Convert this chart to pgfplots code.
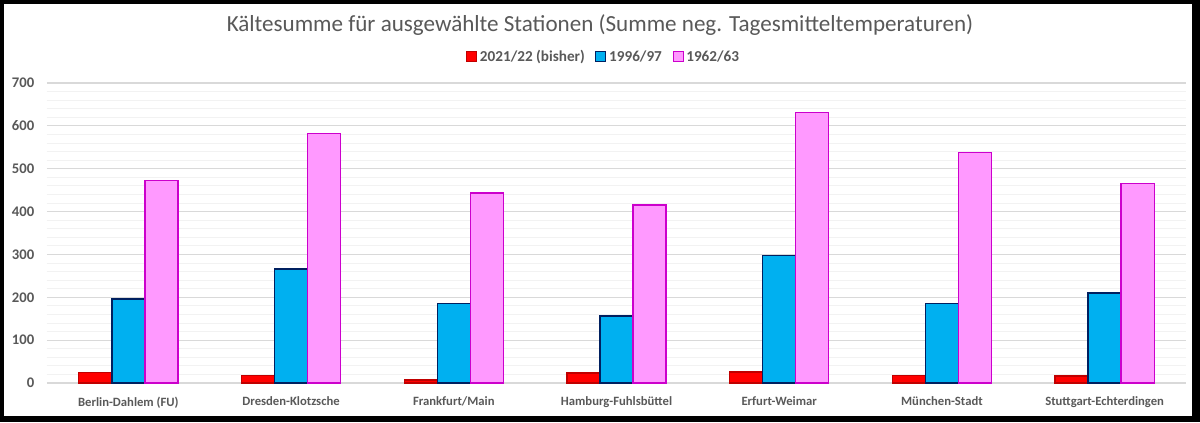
\documentclass[border=0pt]{standalone}
\usepackage{fontspec}
\setmainfont{Carlito}
\usepackage{pgfplots}
\pgfplotsset{compat=1.18}
\definecolor{txt}{HTML}{595959}
\definecolor{gmaj}{HTML}{D9D9D9}
\definecolor{gmin}{HTML}{F2F2F2}
\definecolor{redf}{HTML}{FF0000}
\definecolor{rede}{HTML}{C00000}
\definecolor{bluef}{HTML}{00B0F0}
\definecolor{bluee}{HTML}{002060}
\definecolor{pinkf}{HTML}{FF99FF}
\definecolor{pinke}{HTML}{CC00CC}
\begin{document}
\begin{tikzpicture}
\fill[black] (0pt,0pt) rectangle (900pt,316.5pt);
\fill[white] (3pt,4.5pt) rectangle (894pt,313.5pt);
\node[text=txt,font=\fontsize{17.3pt}{20pt}\selectfont] at (450pt,297.5pt) {Kältesumme für ausgewählte Stationen (Summe neg. Tagesmitteltemperaturen)};
\begin{axis}[
  at={(35.25pt,29.25pt)}, anchor=south west,
  scale only axis, width=854.25pt, height=225pt,
  ybar=0pt, bar width=0.203,
  xmin=-0.5, xmax=6.5, ymin=0, ymax=700,
  xtick={0,1,2,3,4,5,6},
  xticklabels={Berlin-Dahlem (FU),Dresden-Klotzsche,Frankfurt/Main,Hamburg-Fuhlsbüttel,Erfurt-Weimar,München-Stadt,Stuttgart-Echterdingen},
  ytick={0,100,...,700},
  minor y tick num=4,
  ymajorgrids, yminorgrids,
  major grid style={gmaj, line width=0.8pt},
  minor grid style={gmin, line width=0.7pt},
  axis line style={draw=none},
  major tick length=0pt, minor tick length=0pt,
  tick style={draw=none},
  /pgf/number format/assume math mode=true,
  yticklabel style={font=\fontsize{11pt}{13pt}\selectfont\bfseries, text=txt, xshift=-6pt},
  xticklabel style={font=\fontsize{9.5pt}{11pt}\selectfont\bfseries, text=txt, yshift=-7pt},
  legend style={at={(0.489,1.087)}, anchor=center, draw=none, legend columns=3,
    font=\fontsize{11.4pt}{13pt}\selectfont\bfseries, text=txt,
    /tikz/every even column/.append style={column sep=6pt}},
  legend image code/.code={\draw[#1, line width=0.8pt] (0pt,-3.75pt) rectangle (7.5pt,3.75pt);},
]
\addplot[fill=redf, draw=rede, line width=1pt] coordinates {(0,25) (1,18) (2,7) (3,23) (4,26) (5,17) (6,16)};
\addplot[fill=bluef, draw=bluee, line width=1pt] coordinates {(0,196) (1,266) (2,185) (3,156) (4,297) (5,186) (6,210)};
\addplot[fill=pinkf, draw=pinke, line width=1pt] coordinates {(0,472) (1,582) (2,443) (3,415) (4,631) (5,538) (6,466)};
\legend{2021/22 (bisher),1996/97,1962/63}
\end{axis}
\end{tikzpicture}
\end{document}
